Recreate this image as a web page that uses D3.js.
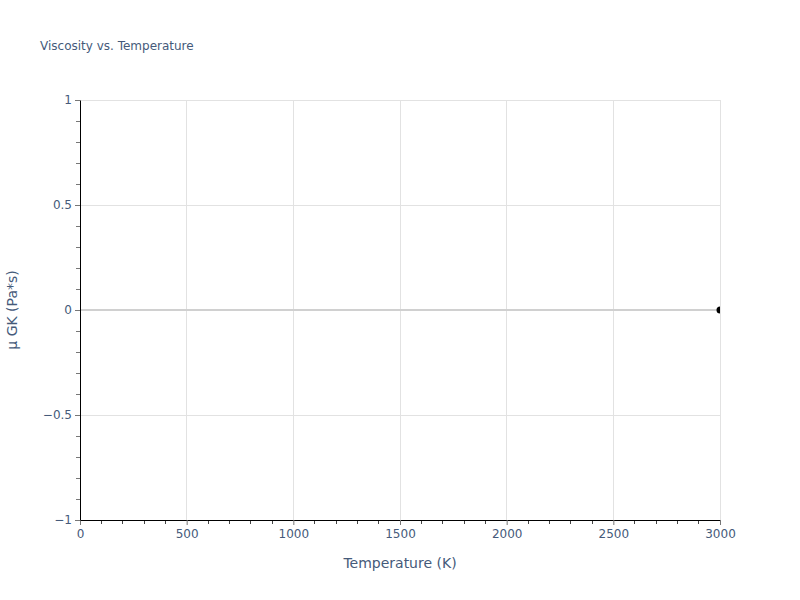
<!DOCTYPE html>
<html><head><meta charset="utf-8">
<script src="https://cdn.jsdelivr.net/npm/d3@7"></script>
<style>body{margin:0;background:#fff}text{font-family:"DejaVu Sans",sans-serif}</style>
</head><body><svg id="c" width="800" height="600"></svg>
<script>
const title = "Viscosity vs. Temperature";
const xLabel = "Temperature (K)";
const yLabel = "μ GK (Pa*s)";
const xTicks = [0, 500, 1000, 1500, 2000, 2500, 3000];
const yTicks = [-1, -0.5, 0, 0.5, 1];
const temperatures = [3000];
const viscosities = [0];

const FONT = '"DejaVu Sans",sans-serif';
const svg = d3.select("#c");
const m = {l: 80, r: 80, t: 100, b: 80};
const W = 800, H = 600;
const x = d3.scaleLinear().domain([0, 3000]).range([m.l, W - m.r]);
const y = d3.scaleLinear().domain([-1, 1]).range([H - m.b, m.t]);
const tickCol = "#455a7a";

// grid
svg.append("g").selectAll("line").data(xTicks.filter(d => d !== 0)).join("line")
  .attr("x1", d => x(d)).attr("x2", d => x(d)).attr("y1", m.t).attr("y2", H - m.b)
  .attr("stroke", "#e2e2e2").attr("stroke-width", 1).attr("shape-rendering", "crispEdges");
svg.append("g").selectAll("line").data(yTicks.filter(d => d !== 0 && d !== -1)).join("line")
  .attr("x1", m.l).attr("x2", W - m.r).attr("y1", d => y(d)).attr("y2", d => y(d))
  .attr("stroke", "#e2e2e2").attr("stroke-width", 1).attr("shape-rendering", "crispEdges");
// zero line
svg.append("line").attr("x1", m.l).attr("x2", W - m.r).attr("y1", y(0)).attr("y2", y(0))
  .attr("stroke", "#d0d0d0").attr("stroke-width", 2);

// minor ticks
const xMinor = d3.range(0, 3001, 100).filter(d => d % 500 !== 0);
svg.append("g").selectAll("line").data(xMinor).join("line")
  .attr("x1", d => x(d)).attr("x2", d => x(d)).attr("y1", H - m.b).attr("y2", H - m.b + 4)
  .attr("stroke", "#444").attr("shape-rendering", "crispEdges");
const yMinor = d3.range(-10, 11).filter(d => d % 5 !== 0).map(d => d / 10);
svg.append("g").selectAll("line").data(yMinor).join("line")
  .attr("x1", m.l - 4).attr("x2", m.l).attr("y1", d => y(d)).attr("y2", d => y(d))
  .attr("stroke", "#777").attr("shape-rendering", "crispEdges");

// axes
const xa = svg.append("g").attr("transform", `translate(0,${H - m.b})`)
  .call(d3.axisBottom(x).tickValues(xTicks).tickSize(5).tickSizeOuter(0).tickPadding(4)
    .tickFormat(d => String(d)));
const ya = svg.append("g").attr("transform", `translate(${m.l},0)`)
  .call(d3.axisLeft(y).tickValues(yTicks).tickSize(5).tickSizeOuter(0).tickPadding(3)
    .tickFormat(d => d < 0 ? "\u2212" + Math.abs(d) : String(d)));
[xa, ya].forEach(a => {
  a.select(".domain").attr("stroke", "#000").attr("stroke-width", 1);
  a.selectAll(".tick line").attr("stroke", "#777");
  a.selectAll(".tick text").attr("fill", tickCol).attr("font-size", 12).attr("font-family", FONT);
});

// clip
svg.append("clipPath").attr("id", "clip").append("rect")
  .attr("x", m.l).attr("y", m.t).attr("width", W - m.l - m.r).attr("height", H - m.t - m.b);
svg.append("g").attr("clip-path", "url(#clip)").selectAll("circle")
  .data(temperatures.map((t, i) => [t, viscosities[i]])).join("circle")
  .attr("cx", d => x(d[0])).attr("cy", d => y(d[1])).attr("r", 3.5).attr("fill", "#000");

// titles
svg.append("text").attr("x", 40).attr("y", 50).attr("font-size", 12).attr("fill", tickCol).text(title);
svg.append("text").attr("x", (m.l + W - m.r) / 2).attr("y", 568).attr("text-anchor", "middle")
  .attr("font-size", 14).attr("fill", tickCol).text(xLabel);
svg.append("text").attr("transform", `translate(17,${(m.t + H - m.b) / 2}) rotate(-90)`)
  .attr("text-anchor", "middle").attr("font-size", 14).attr("fill", tickCol).text(yLabel);
</script></body></html>
